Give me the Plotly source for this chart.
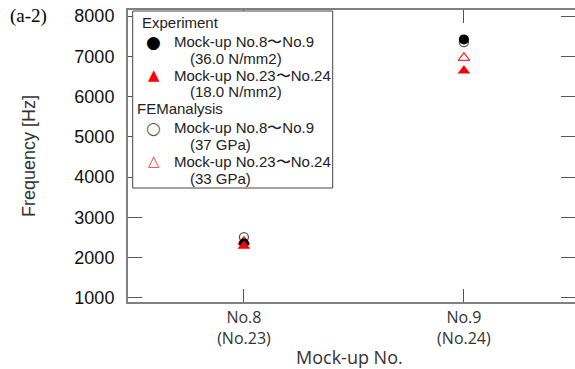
import plotly.graph_objects as go

# ---- data ----
x_pos = [0, 1]
x_ticktext = ["No.8<br>(No.23)", "No.9<br>(No.24)"]
exp_no8_9 = [2360, 7420]      # Experiment, Mock-up No.8~No.9 (black filled circle)
exp_no23_24 = [2290, 6640]    # Experiment, Mock-up No.23~No.24 (red filled triangle)
fem_no8_9 = [2510, 7350]      # FEM, No.8~No.9 (open circle)
fem_no23_24 = [2400, 6960]    # FEM, No.23~No.24 (open red triangle)
y_ticks = [1000, 2000, 3000, 4000, 5000, 6000, 7000, 8000]

legend_groups = ["Experiment", "FEManalysis"]
legend_names = ["Mock-up No.8〜No.9", "Mock-up No.23〜No.24",
                "Mock-up No.8〜No.9", "Mock-up No.23〜No.24"]
legend_sub = ["(36.0 N/mm2)", "(18.0 N/mm2)", "(37 GPa)", "(33 GPa)"]

W, H = 575, 369
ML, MR, MT, MB = 128, 0, 10, 67
PW = W - ML - MR
PH = H - MT - MB


def px(x):
    return (x - ML) / PW


def py(y):
    return 1 - (y - MT) / PH


fig = go.Figure()
fig.add_trace(go.Scatter(
    x=x_pos, y=fem_no8_9, mode="markers", showlegend=False,
    marker=dict(symbol="circle-open", size=9, color="#555555", line=dict(width=1.3)),
))
fig.add_trace(go.Scatter(
    x=x_pos, y=fem_no23_24, mode="markers", showlegend=False,
    marker=dict(symbol="triangle-up-open", size=10, color="#ff3030", line=dict(width=1.3)),
))
fig.add_trace(go.Scatter(
    x=x_pos, y=exp_no8_9, mode="markers", showlegend=False,
    marker=dict(symbol="circle", size=10, color="black"),
))
fig.add_trace(go.Scatter(
    x=x_pos, y=exp_no23_24, mode="markers", showlegend=False,
    marker=dict(symbol="triangle-up", size=11, color="#ff0000"),
))

# ---- hand-built legend (text + symbol glyphs) ----
LF = "Liberation Sans, Arial"
annos = []
legend_rows = [
    ("g", legend_groups[0], 139.5, 22.7),
    ("i", 0, None, 41.7), ("s", 0, None, 58.3),
    ("i", 1, None, 75.0), ("s", 1, None, 91.7),
    ("g", legend_groups[1], 135.0, 108.3),
    ("i", 2, None, 127.7), ("s", 2, None, 144.3),
    ("i", 3, None, 161.0), ("s", 3, None, 178.3),
]
symbols = [("●", "black", 17), ("▲", "#ff0000", 15), ("○", "#555555", 17), ("△", "#ff3030", 15)]
for kind, v, xl, yc in legend_rows:
    if kind == "g":
        annos.append(dict(text=v, x=px(xl), y=py(yc)))
    elif kind == "i":
        annos.append(dict(text=legend_names[v], x=px(171.7), y=py(yc)))
        s, c, fs = symbols[v]
        annos.append(dict(text=s, x=px(153.5), y=py(yc), xanchor="center",
                          font=dict(family="DejaVu Sans", size=fs, color=c)))
    else:
        annos.append(dict(text=legend_sub[v], x=px(188.3), y=py(yc)))
for a in annos:
    a.setdefault("xanchor", "left")
    a.update(xref="paper", yref="paper", yanchor="middle", showarrow=False)
    a.setdefault("font", dict(family=LF, size=15, color="#222222"))

annos.append(dict(
    text="(a-2)", xref="paper", yref="paper",
    x=px(8), y=py(16), xanchor="left", yanchor="middle",
    showarrow=False, font=dict(family="Liberation Serif, Times New Roman", size=19, color="black"),
))
annos.append(dict(
    text="Mock-up No.", xref="paper", yref="paper",
    x=px(349), y=py(356.5), xanchor="center", yanchor="middle", borderpad=0,
    showarrow=False, font=dict(family="Open Sans", size=18, color="#333333"),
))

axis_col = "#808080"
fig.update_layout(
    width=W, height=H,
    margin=dict(l=ML, r=MR, t=MT, b=MB),
    paper_bgcolor="white", plot_bgcolor="white",
    font=dict(family=LF, size=15, color="#222222"),
    showlegend=False,
    xaxis=dict(
        range=[-0.527, 1.505], tickmode="array", tickvals=x_pos, ticktext=x_ticktext,
        ticks="inside", ticklen=13, tickcolor="#555555", tickwidth=1.2,
        showline=True, linecolor=axis_col, linewidth=2, mirror="ticks",
        showgrid=False, zeroline=False, automargin=False,
        tickfont=dict(family="Open Sans", size=16, color="#333333"),
    ),
    yaxis=dict(
        range=[900, 8150], tickmode="array", tickvals=y_ticks,
        ticks="inside", ticklen=14, tickcolor="#555555", tickwidth=1.2,
        showline=True, linecolor=axis_col, linewidth=2, mirror="ticks",
        showgrid=False, zeroline=False, automargin=False,
        tickfont=dict(family=LF, size=18, color="#111111"),
        ticklabelstandoff=8,
        title=dict(text="Frequency [Hz]", font=dict(family=LF, size=18, color="#333333"), standoff=34),
    ),
    shapes=[dict(
        type="rect", xref="paper", yref="paper", layer="above",
        x0=px(132.7), x1=px(332.7), y0=py(188), y1=py(11),
        line=dict(color="#444444", width=1), fillcolor="white",
    )],
    annotations=annos,
)

fig.write_html("out.html")
